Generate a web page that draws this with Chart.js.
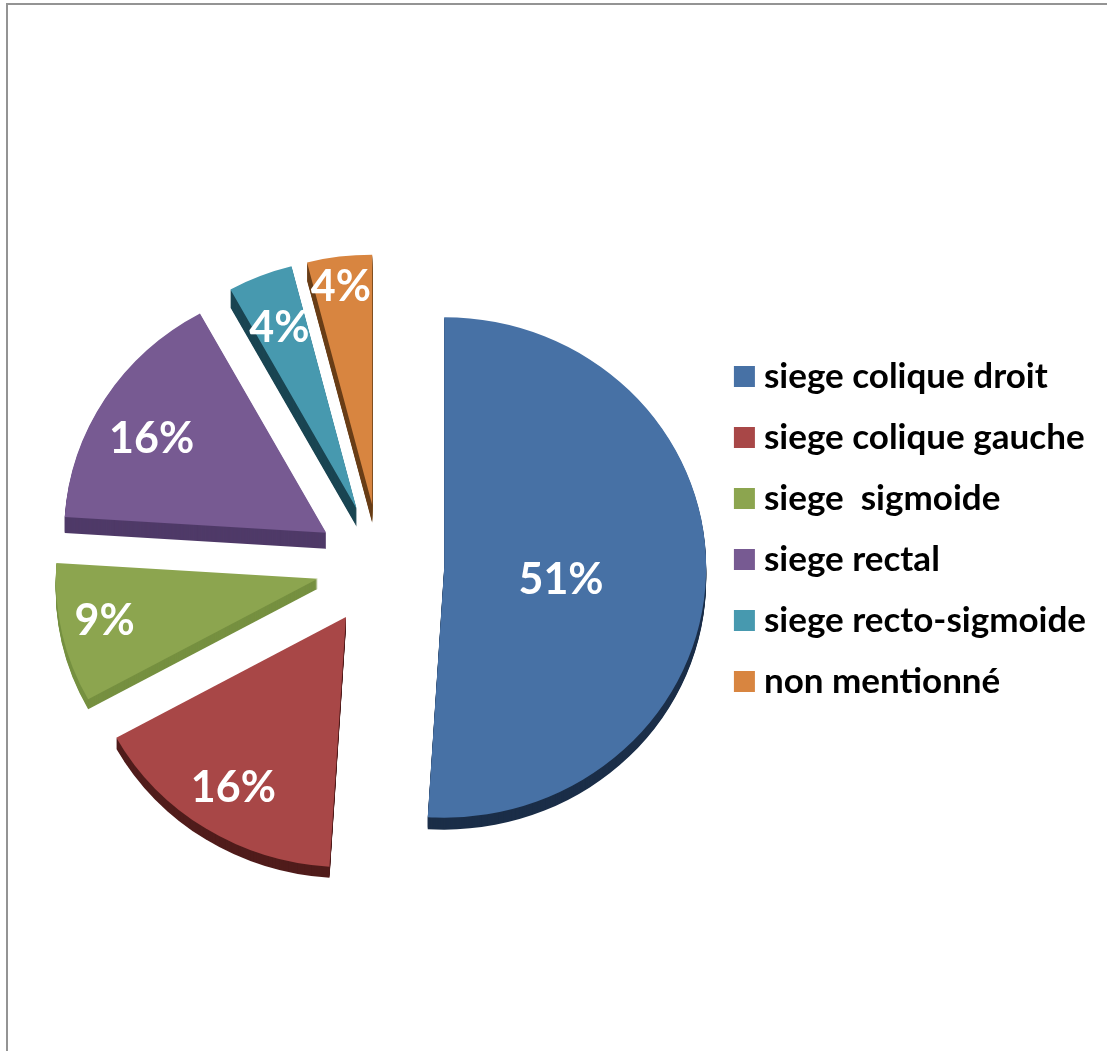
<!DOCTYPE html>
<html>
<head>
<meta charset="utf-8">
<title>siege</title>
<script src="https://cdn.jsdelivr.net/npm/chart.js@4/dist/chart.umd.min.js"></script>
<style>
  html, body { margin: 0; padding: 0; background: #fff; overflow: hidden; }
  #frame { position: absolute; left: 6px; top: 3px; right: 0; bottom: 0; border-left: 2px solid #949494; border-top: 2px solid #949494; }
  #pie { position: absolute; left: 0; top: 0; }
</style>
</head>
<body>
<div id="frame"></div>
<canvas id="pie" width="1107" height="1051"></canvas>
<script>
const categories = ['siege colique droit', 'siege colique gauche', 'siege  sigmoide', 'siege rectal', 'siege recto-sigmoide', 'non mentionné'];
const percents = [51, 16, 9, 16, 4, 4];
const topColors = ['#4771A5', '#A84747', '#8CA54F', '#775A92', '#4799AF', '#D88540'];
const sideColors = ['#1B2E48', '#501C1B', '#769040', '#4F3A68', '#1A4552', '#6A3F18'];

// height of the side wall under each slice
const wallDepth = [12, 11, 10, 16, 18, 18];

// how far along each slice the % label sits, as a share of the radius
const labelReach = [0.45, 0.78, 0.83, 0.78, 0.74, 0.86];
const labelNudge = [[-1, 9], [-3, 6], [-1, -3], [-2, 11], [-6, -8], [-3, -4]];

const EXPLODE = 64;   // gap of every slice from the centre
const TILT = 0.955;   // vertical squash of the pie
const RADIUS = 262;

// exploded, tilted slices with a side wall under each one
const slicesPlugin = {
  id: 'slices',
  beforeDatasetDraw(chart) {
    const ctx = chart.ctx;
    const arcs = chart.getDatasetMeta(0).data;
    const cx = arcs[0].x, cy = arcs[0].y;
    ctx.save();
    ctx.translate(cx, cy);
    ctx.scale(1, TILT);
    ctx.translate(-cx, -cy);
    arcs.forEach((arc, i) => {
      const mid = (arc.startAngle + arc.endAngle) / 2;
      ctx.save();
      ctx.translate(Math.cos(mid) * EXPLODE, Math.sin(mid) * EXPLODE);
      ctx.fillStyle = sideColors[i];
      for (let d = wallDepth[i]; d > 0; d--) {
        ctx.beginPath();
        ctx.moveTo(arc.x, arc.y + d / TILT);
        ctx.arc(arc.x, arc.y + d / TILT, arc.outerRadius, arc.startAngle, arc.endAngle);
        ctx.closePath();
        ctx.fill();
      }
      arc.draw(ctx);
      ctx.restore();
    });
    ctx.restore();
    return false;
  },
  afterDatasetsDraw(chart) {
    const ctx = chart.ctx;
    ctx.save();
    ctx.fillStyle = '#fff';
    ctx.font = 'bold 43px Lato';
    ctx.textAlign = 'center';
    ctx.textBaseline = 'middle';
    chart.getDatasetMeta(0).data.forEach((arc, i) => {
      const mid = (arc.startAngle + arc.endAngle) / 2;
      const dist = EXPLODE + labelReach[i] * arc.outerRadius;
      const x = arc.x + Math.cos(mid) * dist + labelNudge[i][0];
      const y = arc.y + Math.sin(mid) * dist * TILT + labelNudge[i][1];
      ctx.fillText(percents[i] + '%', x, y);
    });
    ctx.restore();
  }
};

new Chart(document.getElementById('pie'), {
  type: 'pie',
  data: {
    labels: categories,
    datasets: [{
      data: percents,
      backgroundColor: topColors,
      borderWidth: 0,
      radius: RADIUS,
    }],
  },
  options: {
    responsive: false,
    animation: false,
    layout: { padding: { left: 44, right: 11, top: 333, bottom: 253 } },
    plugins: {
      tooltip: { enabled: false },
      legend: {
        position: 'right',
        align: 'start',
        labels: {
          color: '#000',
          font: { family: 'Lato', weight: 'bold', size: 35, lineHeight: 1 },
          boxWidth: 4,
          boxHeight: 4,
          padding: 26,
          // thick stroke squares off the small swatch
          generateLabels(chart) {
            return Chart.overrides.pie.plugins.legend.labels.generateLabels(chart).map(item => ({
              ...item, lineWidth: 17, strokeStyle: item.fillStyle,
            }));
          },
        },
      },
    },
  },
  plugins: [slicesPlugin],
});
</script>
</body>
</html>
